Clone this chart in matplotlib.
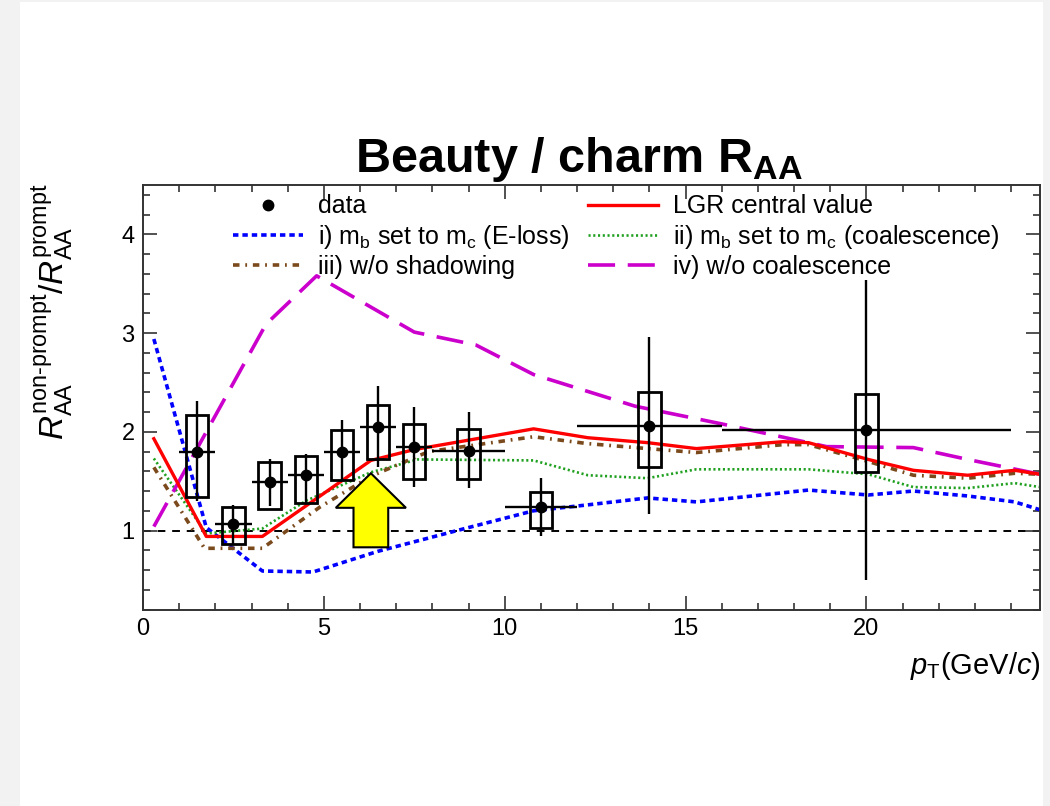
import numpy as np
import matplotlib
matplotlib.use('Agg')
import matplotlib.pyplot as plt
from matplotlib.patches import Rectangle, FancyArrow
from matplotlib.lines import Line2D
from matplotlib.ticker import MultipleLocator

plt.rcParams['font.family'] = ['Liberation Sans', 'DejaVu Sans']
plt.rcParams['mathtext.fontset'] = 'custom'
plt.rcParams['mathtext.rm'] = 'Liberation Sans'
plt.rcParams['mathtext.it'] = 'Liberation Sans:italic'
plt.rcParams['mathtext.bf'] = 'Liberation Sans:bold'

# data points (pT bins)
pt = [1.5, 2.5, 3.5, 4.5, 5.5, 6.5, 7.5, 9.0, 11.0, 14.0, 20.0]
pt_err = [0.5, 0.5, 0.5, 0.5, 0.5, 0.5, 0.5, 1.0, 1.0, 2.0, 4.0]
ratio = [1.80, 1.07, 1.49, 1.56, 1.80, 2.05, 1.85, 1.81, 1.24, 2.06, 2.02]
stat_hi = [2.31, 1.26, 1.72, 1.78, 2.12, 2.46, 2.25, 2.20, 1.53, 2.96, 3.54]
stat_lo = [1.30, 0.85, 1.25, 1.28, 1.50, 1.64, 1.44, 1.43, 0.94, 1.17, 0.50]
sys_hi = [2.17, 1.24, 1.69, 1.75, 2.02, 2.27, 2.08, 2.03, 1.39, 2.40, 2.38]
sys_lo = [1.34, 0.86, 1.22, 1.28, 1.51, 1.72, 1.52, 1.52, 1.03, 1.64, 1.59]

# model curves
x_lgr = [0.3, 1.75, 3.3, 6.3, 7.5, 10.8, 12.3, 13.95, 15.3, 17.7, 18.4, 20.05, 21.3, 22.8, 24.1, 24.8]
y_lgr = [1.93, 0.94, 0.94, 1.71, 1.82, 2.03, 1.94, 1.89, 1.83, 1.90, 1.89, 1.72, 1.61, 1.56, 1.61, 1.57]

x_eloss = [0.3, 1.75, 3.3, 4.7, 6.5, 9.0, 10.8, 12.3, 13.95, 15.3, 18.4, 20.05, 21.3, 22.8, 24.1, 24.8]
y_eloss = [2.94, 1.03, 0.59, 0.58, 0.79, 1.03, 1.20, 1.26, 1.33, 1.29, 1.41, 1.36, 1.40, 1.35, 1.29, 1.21]

x_coal = [0.3, 1.75, 3.3, 4.5, 6.3, 7.6, 10.8, 12.3, 13.95, 15.3, 18.4, 20.05, 21.3, 22.8, 24.1, 24.8]
y_coal = [1.73, 0.97, 1.02, 1.30, 1.59, 1.72, 1.71, 1.56, 1.53, 1.62, 1.62, 1.57, 1.44, 1.43, 1.48, 1.44]

x_shad = [0.3, 1.7, 3.3, 4.9, 6.3, 7.9, 10.8, 12.3, 13.95, 15.3, 17.7, 18.4, 20.05, 21.3, 22.8, 24.1, 24.8]
y_shad = [1.64, 0.82, 0.82, 1.24, 1.55, 1.80, 1.95, 1.88, 1.83, 1.79, 1.87, 1.87, 1.70, 1.56, 1.53, 1.58, 1.57]

x_nocoal = [0.3, 3.4, 4.8, 7.5, 9.2, 10.8, 13.6, 16.0, 18.9, 21.3, 22.8, 24.8]
y_nocoal = [1.04, 3.09, 3.58, 3.01, 2.88, 2.58, 2.26, 2.08, 1.85, 1.84, 1.72, 1.57]

fig = plt.figure(figsize=(10.5, 8.06), dpi=100, facecolor='#f2f2f2')
fig.patches.append(Rectangle((20/1050, 0), 1023/1050, 804/806, transform=fig.transFigure,
                             facecolor='white', edgecolor='none', zorder=-10))
ax = fig.add_axes([143/1050, 1-609.5/806, 897/1050, 424.5/806])

ax.axhline(1, color='black', lw=1.4, dashes=(4, 3.5), zorder=1)

ax.plot(x_eloss, y_eloss, color='#0000ff', lw=2.6, dashes=(1.5, 1.1), zorder=2,
        label=r'i) m$_{\rm b}$ set to m$_{\rm c}$ (E-loss)')
ax.plot(x_coal, y_coal, color='#20a020', lw=1.9, dashes=(0.8, 1.0), zorder=2,
        label=r'ii) m$_{\rm b}$ set to m$_{\rm c}$ (coalescence)')
ax.plot(x_shad, y_shad, color='#7b4a1c', lw=2.6, dashes=(1.8, 1.6, 0.5, 1.6), zorder=2,
        label='iii) w/o shadowing')
ax.plot(x_nocoal, y_nocoal, color='#cc00cc', lw=2.6, dashes=(7.5, 3.5), zorder=2,
        label='iv) w/o coalescence')
ax.plot(x_lgr, y_lgr, color='#ff0000', lw=2.4, zorder=2.5, label='LGR central value')

# systematic boxes
for xi, lo, hi in zip(pt, sys_lo, sys_hi):
    ax.add_patch(Rectangle((xi - 0.31, lo), 0.62, hi - lo, facecolor='none',
                           edgecolor='black', lw=2.0, zorder=3))

yerr = [np.array(ratio) - np.array(stat_lo), np.array(stat_hi) - np.array(ratio)]
ax.errorbar(pt, ratio, xerr=pt_err, yerr=yerr, fmt='o', color='black', ms=7.5,
            elinewidth=1.7, capsize=0, zorder=3.5)

ax.add_patch(FancyArrow(6.3, 0.83, 0, 0.75, width=0.96, head_width=1.94, head_length=0.35,
                        length_includes_head=True, facecolor='#ffff00', edgecolor='black',
                        lw=1.5, zorder=5))

ax.set_xlim(0, 24.8)
ax.set_ylim(0.2, 4.5)
ax.xaxis.set_major_locator(MultipleLocator(5))
ax.xaxis.set_minor_locator(MultipleLocator(1))
ax.yaxis.set_major_locator(MultipleLocator(1))
ax.yaxis.set_minor_locator(MultipleLocator(0.2))
ax.tick_params(which='both', direction='in', top=True, right=True, labelsize=17, width=1.2,
               color='#333333')
ax.tick_params(which='major', length=10, pad=6)
ax.tick_params(which='minor', length=5)
for s in ax.spines.values():
    s.set_linewidth(1.4)
    s.set_color('#333333')

h = {l.get_label(): l for l in ax.get_lines()}
data_handle = Line2D([], [], marker='o', color='black', ls='none', ms=7.5)
handles = [data_handle,
           h[r'i) m$_{\rm b}$ set to m$_{\rm c}$ (E-loss)'],
           h['iii) w/o shadowing'],
           h['LGR central value'],
           h[r'ii) m$_{\rm b}$ set to m$_{\rm c}$ (coalescence)'],
           h['iv) w/o coalescence']]
labels = ['data', r'i) m$_{\rm b}$ set to m$_{\rm c}$ (E-loss)', 'iii) w/o shadowing',
          'LGR central value', r'ii) m$_{\rm b}$ set to m$_{\rm c}$ (coalescence)',
          'iv) w/o coalescence']
ax.legend(handles, labels, ncol=2, loc='upper left', bbox_to_anchor=(0.1, 0.978),
          frameon=False, fontsize=18, handlelength=2.8, handletextpad=0.6,
          columnspacing=0.75, labelspacing=0.17, borderpad=0, borderaxespad=0)

fig.text(0.551, 1-172/806, r'Beauty / charm R$_{\mathbf{AA}}$', fontsize=35,
         fontweight='bold', ha='center', va='baseline')
fig.text(0.05, 1-183/806, r'$R_{\rm AA}^{\text{non-prompt}}/R_{\rm AA}^{\rm prompt}$',
         fontsize=24, rotation=90, ha='center', va='top')
fig.text(1040.5/1050, 1-674/806, r'$p_{\rm T}$(GeV/$c$)', fontsize=21, ha='right',
         va='baseline')

fig.savefig('out.png', dpi=100, facecolor=fig.get_facecolor())
